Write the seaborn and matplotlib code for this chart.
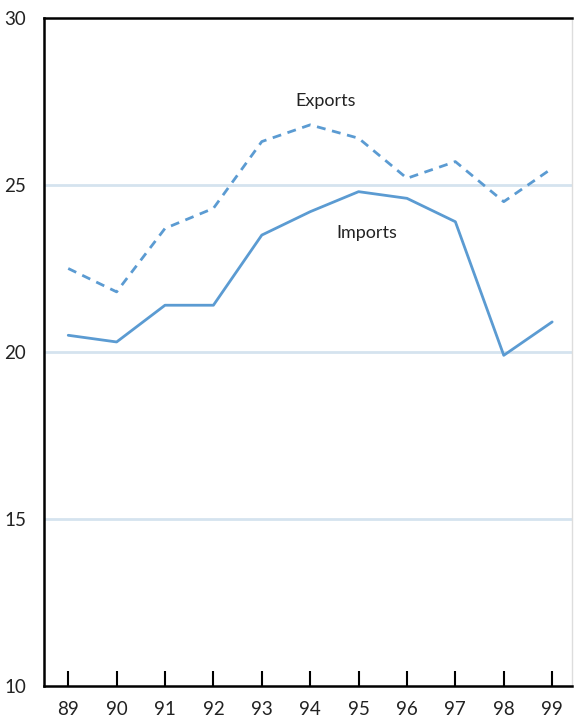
import pandas as pd
import matplotlib.pyplot as plt
import seaborn as sns

years = [89, 90, 91, 92, 93, 94, 95, 96, 97, 98, 99]
exports = [22.5, 21.8, 23.7, 24.3, 26.3, 26.8, 26.4, 25.2, 25.7, 24.5, 25.5]
imports = [20.5, 20.3, 21.4, 21.4, 23.5, 24.2, 24.8, 24.6, 23.9, 19.9, 20.9]
y_ticks = [10, 15, 20, 25, 30]

df = pd.DataFrame({'year': years, 'Exports': exports, 'Imports': imports})

sns.set_style('white')
plt.rcParams['font.family'] = ['Lato', 'DejaVu Sans']

line_color = '#5b9bd2'
grid_color = '#d5e3ef'

fig = plt.figure(figsize=(5.74, 7.19), dpi=100)
ax = fig.add_axes([0.0767, 0.0459, 0.9198, 0.9291])

for y in [15, 20, 25]:
    ax.axhline(y, color=grid_color, linewidth=2, zorder=0)

sns.lineplot(data=df, x='year', y='Imports', ax=ax, color=line_color, linewidth=2)
sns.lineplot(data=df, x='year', y='Exports', ax=ax, color=line_color, linewidth=2,
             linestyle=(0, (3.2, 2.4)))

ax.text(94.31, 27.5, 'Exports', fontsize=13, ha='center', va='center', color='#222222')
ax.text(95.18, 23.56, 'Imports', fontsize=13, ha='center', va='center', color='#222222')

ax.set_xlim(88.5, 99.41)
ax.set_ylim(10, 30)
ax.set_xticks(years)
ax.set_xticklabels([str(y) for y in years])
ax.set_yticks(y_ticks)
ax.set_xlabel('')
ax.set_ylabel('')

ax.tick_params(axis='x', direction='in', length=11, width=1.5, color='black',
               labelsize=13.5, pad=11, bottom=True, labelcolor='#222222')
ax.tick_params(axis='y', length=0, labelsize=13.5, pad=13, left=True, labelcolor='#222222')

for side in ['left', 'bottom', 'top']:
    ax.spines[side].set_color('black')
    ax.spines[side].set_linewidth(1.8)
ax.spines['right'].set_color('#dddddd')
ax.spines['right'].set_linewidth(1)

fig.savefig('out.png', dpi=100)
